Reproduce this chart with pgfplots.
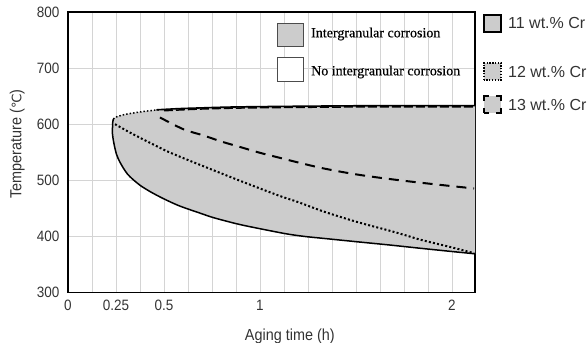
\documentclass[border=0pt]{standalone}
\usepackage{fontspec}
\usepackage{pgfplots}
\pgfplotsset{compat=1.18}
\setmainfont{Liberation Sans}[FakeStretch=0.9]
\newfontfamily\legfont{Liberation Sans}
\newfontfamily\seriffont{Liberation Serif}[FakeBold=0.4]
\newfontfamily\dejavu{DejaVu Sans}
\begin{document}
\begin{tikzpicture}[x=1pt,y=1pt]
\begin{axis}[
  at={(68pt,50.5pt)}, anchor=south west,
  scale only axis, width=407pt, height=280.5pt,
  xmin=0, xmax=2.12, ymin=300, ymax=800,
  xtick={0,0.25,0.5,1,2},
  xticklabels={0,0.25,0.5,1,\raisebox{-5pt}{2}},
  minor xtick={0.125,0.375,0.625,0.75,0.875,1.125,1.25,1.375,1.5,1.625,1.75,1.875},
  ytick={300,400,500,600,700,800},
  xmajorgrids, xminorgrids, ymajorgrids,
  major grid style={black!17, line width=0.9pt},
  minor grid style={black!17, line width=0.9pt},
  major tick length=0pt, minor tick length=0pt,
  axis line style={line width=1.2pt},
  /pgf/number format/assume math mode=true,
  ticklabel style={font=\fontsize{15}{18}\selectfont, text=black!80},
  xticklabel style={yshift=-4pt},
  yticklabel style={xshift=-5pt},
  xlabel={Aging time (h)},
  ylabel={Temperature ({\dejavu\fontsize{13}{16}\selectfont ℃})},
  label style={font=\fontsize{16}{19}\selectfont, text=black!80},
  xlabel style={at={(axis description cs:0.545,-0.171)}, anchor=base},
  ylabel style={at={(axis description cs:-0.1143,0.53)}, anchor=base},
]
% shaded region: upper boundary, right edge, lower (11 wt.%) boundary back to the nose
\addplot[fill=gray!40, draw=none, forget plot] coordinates {
 (0.236,609) (0.243,611.5) (0.26,614) (0.28,616) (0.306,618) (0.35,620.5)
 (0.4,623) (0.479,626) (0.58,627.8) (0.6875,629) (0.8,630.2) (0.922,631)
 (1.2,632) (1.6,633) (2.12,633) (2.12,369)
 (2.016,372.5) (1.842,378.6) (1.677,384.6) (1.503,390.5) (1.33,396.5)
 (1.243,399.5) (1.156,403.5) (1.069,409) (0.931,418.5) (0.861,424)
 (0.757,433.5) (0.6875,441.5) (0.583,454) (0.514,464.5) (0.47,472) (0.427,480)
 (0.38,490) (0.34,501) (0.31,511) (0.288,522) (0.268,534) (0.253,546)
 (0.242,561) (0.234,576) (0.231,586) (0.232,595) (0.233,603) (0.236,609)} -- cycle;
% 11 wt.% Cr (solid)
\addplot[black, line width=1.5pt, smooth] coordinates {
 (0.236,609) (0.233,603) (0.232,595) (0.231,586) (0.234,576) (0.242,561)
 (0.253,546) (0.268,534) (0.288,522) (0.31,511) (0.34,501) (0.38,490)
 (0.427,480) (0.47,472) (0.514,464.5) (0.583,454) (0.6875,441.5) (0.757,433.5)
 (0.861,424) (0.931,418.5) (1.069,409) (1.156,403.5) (1.243,399.5)
 (1.33,396.5) (1.503,390.5) (1.677,384.6) (1.842,378.6) (2.016,372.5) (2.12,369)};
% upper boundary
\addplot[black, line width=1.6pt, smooth] coordinates {
 (0.46,625.6) (0.58,627.8) (0.6875,629) (0.8,630.2) (0.922,631) (1.2,632) (1.6,633) (2.12,633)};
\addplot[black, line width=1.5pt, dash pattern=on 9pt off 3pt, smooth] coordinates {
 (0.5,624) (0.6875,627) (0.922,629) (1.2,630) (1.6,631) (2.12,631)};
\addplot[black, line width=1.5pt, dash pattern=on 1.5pt off 2pt, smooth] coordinates {
 (0.236,609) (0.243,611.5) (0.26,614) (0.28,616) (0.306,618) (0.35,620.5) (0.4,623) (0.479,626)};
% 12 wt.% Cr (dotted)
\addplot[black, line width=2pt, dash pattern=on 2pt off 2.2pt, smooth] coordinates {
 (0.245,600) (0.34,582) (0.514,552) (0.583,542) (0.757,518) (0.931,494.5)
 (1.104,472) (1.2,461) (1.33,444.5) (1.503,426) (1.677,410) (1.773,400.5)
 (1.842,393.5) (2.016,379) (2.115,370)};
% 13 wt.% Cr (dashed)
\addplot[black, line width=2pt, dash pattern=on 10pt off 7pt, smooth] coordinates {
 (0.479,612) (0.601,591) (0.705,580) (0.8,569) (0.904,558.6) (1.0,549)
 (1.104,540) (1.208,531) (1.3125,522.5) (1.417,515.5) (1.521,509.5)
 (1.625,504.5) (1.729,500) (1.842,495.5) (2.016,489) (2.115,485.5)};
\end{axis}
% legend inside the axis
\draw[black!70, line width=0.8pt, fill=gray!40] (277,297) rectangle (303,320);
\draw[black!70, line width=0.8pt, fill=white] (277,262) rectangle (303,286);
\node[anchor=west, inner sep=0, font=\seriffont\fontsize{14}{16}\selectfont] at (311,309) {Intergranular corrosion};
\node[anchor=west, inner sep=0, font=\seriffont\fontsize{14}{16}\selectfont] at (311,271) {No intergranular corrosion};
% legend at the right
\draw[black, line width=1.2pt, fill=gray!40] (484,311) rectangle (501,328);
\draw[black, line width=1.2pt, fill=gray!40, dash pattern=on 1.3pt off 1.5pt] (484,263) rectangle (501,280);
\draw[black, line width=1.3pt, fill=gray!40, dash pattern=on 5pt off 7pt on 5pt off 0pt] (484,230) rectangle (501,247);
\node[anchor=west, inner sep=0, text=black!80, font=\legfont\fontsize{16}{19}\selectfont] at (508,320) {11 wt.\% Cr};
\node[anchor=west, inner sep=0, text=black!80, font=\legfont\fontsize{16}{19}\selectfont] at (508,271) {12 wt.\% Cr};
\node[anchor=west, inner sep=0, text=black!80, font=\legfont\fontsize{16}{19}\selectfont] at (508,238) {13 wt.\% Cr};
\pgfresetboundingbox
\path[use as bounding box] (0,0) rectangle (587,343);
\end{tikzpicture}
\end{document}
